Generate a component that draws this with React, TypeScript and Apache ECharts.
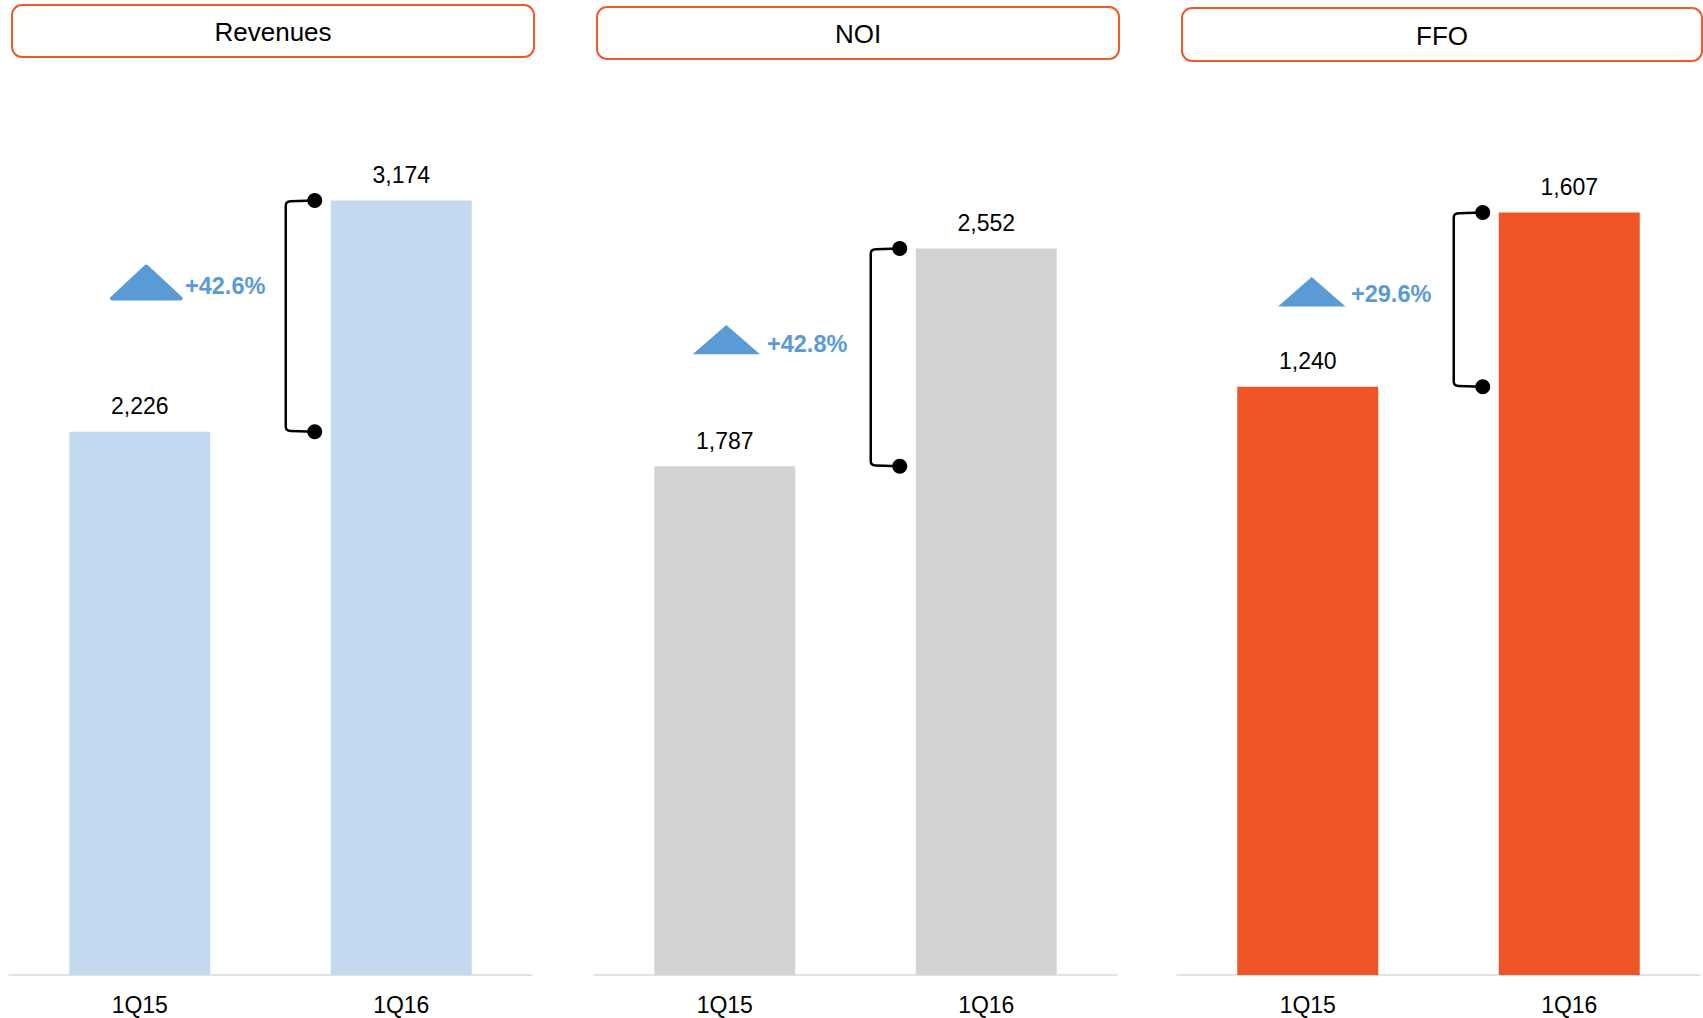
import React, { useEffect, useRef } from "react";
import * as echarts from "echarts";

const categories = ["1Q15", "1Q16"];
const panelTitles = ["Revenues", "NOI", "FFO"];
const revenues = [2226, 3174];
const noi = [1787, 2552];
const ffo = [1240, 1607];
const changeLabels = ["+42.6%", "+42.8%", "+29.6%"];
const axisMax = [3500, 3000, 1800];

const FONT = "'Liberation Sans', Arial, Helvetica, sans-serif";
const barColors = ["#C3D9EF", "#D3D3D3", "#EF5426"];
const panelData = [revenues, noi, ffo];

const gridLefts = [9, 594, 1177];
const GRID_W = 523;
const GRID_TOP = 121;
const GRID_H = 854;
const BAR_W = 141;

const titleBoxes = [
  { x: 12, y: 5, w: 522, h: 52 },
  { x: 597, y: 7, w: 522, h: 52 },
  { x: 1182, y: 8, w: 520, h: 53 },
];

const triangles = [
  { pts: [[112, 298.5], [146.3, 266.5], [180.7, 298.5]], rounded: true },
  { pts: [[692.7, 354.3], [726.3, 325], [760, 354.3]], rounded: false },
  { pts: [[1278, 306.5], [1311.7, 277], [1345.5, 306.5]], rounded: false },
];
const changePos = [
  { x: 185, y: 286 },
  { x: 767, y: 344 },
  { x: 1351, y: 294 },
];

export default function App() {
  const ref = useRef<HTMLDivElement>(null);

  useEffect(() => {
    if (!ref.current) return;
    const chart = echarts.init(ref.current, undefined, { renderer: "svg" });

    const grids = gridLefts.map((left) => ({
      left,
      top: GRID_TOP,
      width: GRID_W,
      height: GRID_H,
    }));

    const xAxes = gridLefts.map((_, i) => ({
      type: "category",
      gridIndex: i,
      data: categories,
      axisLine: { show: true, lineStyle: { color: "#D9D9D9", width: 1.5 } },
      axisTick: { show: false },
      axisLabel: {
        color: "#000",
        fontSize: 23,
        fontFamily: FONT,
        margin: 18,
      },
    }));

    const yAxes = gridLefts.map((_, i) => ({
      type: "value",
      gridIndex: i,
      min: 0,
      max: axisMax[i],
      show: false,
      splitLine: { show: false },
    }));

    const barSeries = panelData.map((vals, i) => ({
      type: "bar",
      xAxisIndex: i,
      yAxisIndex: i,
      data: vals,
      barWidth: BAR_W,
      itemStyle: { color: barColors[i] },
      label: {
        show: true,
        position: "top",
        distance: 14,
        color: "#000",
        fontSize: 23,
        fontFamily: FONT,
        formatter: (p: any) => Number(p.value).toLocaleString("en-US"),
      },
    }));

    const bracketSeries = panelData.map((vals, i) => ({
      type: "custom",
      xAxisIndex: i,
      yAxisIndex: i,
      clip: false,
      z: 5,
      data: [[1, vals[0], vals[1]]],
      encode: { x: 0, y: [1, 2] },
      renderItem: (params: any, api: any) => {
        const top = api.coord([api.value(0), api.value(2)]);
        const bot = api.coord([api.value(0), api.value(1)]);
        const barLeft = top[0] - BAR_W / 2;
        const dotX = barLeft - 16;
        const lineX = barLeft - 45;
        const ty = top[1];
        const by = bot[1];
        const r = 5;
        const d = `M ${dotX} ${ty} L ${lineX + r} ${ty + 0.8} Q ${lineX} ${ty + 1} ${lineX} ${ty + r} L ${lineX} ${by - r} Q ${lineX} ${by - 1} ${lineX + r} ${by - 0.8} L ${dotX} ${by}`;
        return {
          type: "group",
          children: [
            {
              type: "path",
              shape: { pathData: d },
              style: { fill: "none", stroke: "#000", lineWidth: 2.5 },
            },
            {
              type: "circle",
              shape: { cx: dotX, cy: ty, r: 7.5 },
              style: { fill: "#000" },
            },
            {
              type: "circle",
              shape: { cx: dotX, cy: by, r: 7.5 },
              style: { fill: "#000" },
            },
          ],
        };
      },
    }));

    const graphics: any[] = [];
    titleBoxes.forEach((b, i) => {
      graphics.push({
        type: "rect",
        shape: { x: b.x, y: b.y, width: b.w, height: b.h, r: 10 },
        style: { fill: "#fff", stroke: "#F05A2A", lineWidth: 2 },
      });
      graphics.push({
        type: "text",
        x: b.x + b.w / 2,
        y: b.y + b.h / 2 + 1,
        style: {
          text: panelTitles[i],
          fill: "#000",
          fontSize: 26,
          fontFamily: FONT,
          align: "center",
          verticalAlign: "middle",
        },
      });
    });
    triangles.forEach((t, i) => {
      graphics.push({
        type: "polygon",
        shape: { points: t.pts },
        style: t.rounded
          ? { fill: "#5B9BD5", stroke: "#5B9BD5", lineWidth: 4, lineJoin: "round" }
          : { fill: "#5B9BD5" },
      });
      graphics.push({
        type: "text",
        x: changePos[i].x,
        y: changePos[i].y,
        style: {
          text: changeLabels[i],
          fill: "#5B9BD5",
          fontSize: 23.5,
          fontWeight: "bold",
          fontFamily: FONT,
          align: "left",
          verticalAlign: "middle",
        },
      });
    });

    chart.setOption({
      animation: false,
      backgroundColor: "#fff",
      grid: grids,
      xAxis: xAxes,
      yAxis: yAxes,
      series: [...barSeries, ...bracketSeries],
      graphic: graphics,
    });

    return () => chart.dispose();
  }, []);

  return (
    <div
      ref={ref}
      style={{ position: "absolute", left: 0, top: 0, width: 1703, height: 1018 }}
    />
  );
}
